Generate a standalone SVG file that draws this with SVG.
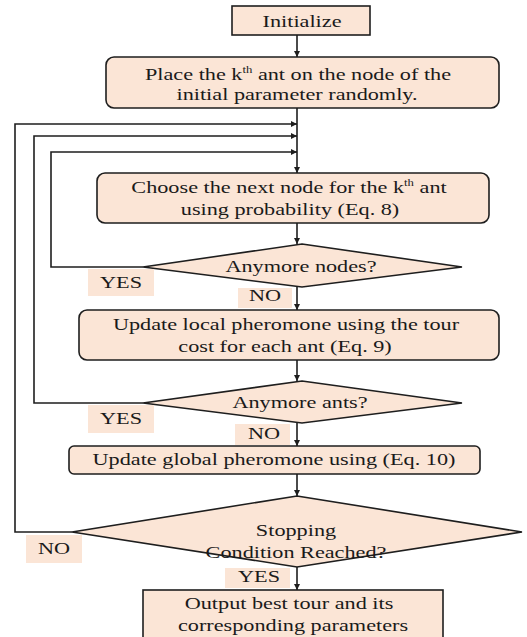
<svg xmlns="http://www.w3.org/2000/svg" width="527" height="637" viewBox="0 0 527 637">
<style>
.box{fill:#FBE5D6;stroke:#1e1e1e;stroke-width:1.6}
.lbl{fill:#FBE5D6;stroke:none}
.t{font-family:"Liberation Serif","Times New Roman",serif;font-size:17.5px;fill:#1a1a1a;text-anchor:middle}
.sup{font-size:10px}
.c{fill:none;stroke:#1e1e1e;stroke-width:1.6}
</style>
<defs>
<marker id="ah" viewBox="0 0 10 10" refX="10" refY="5" markerWidth="6" markerHeight="6" markerUnits="userSpaceOnUse" orient="auto">
<path d="M0,0 L10,5 L0,10 z" fill="#1e1e1e"/>
</marker>
</defs>
<rect width="527" height="637" fill="#fff"/>

<g id="connectors">
<line class="c" x1="297" y1="35" x2="297" y2="57" marker-end="url(#ah)"/>
<line class="c" x1="297" y1="108" x2="297" y2="173" marker-end="url(#ah)"/>
<line class="c" x1="297" y1="223" x2="297" y2="244" marker-end="url(#ah)"/>
<line class="c" x1="297" y1="287" x2="297" y2="310" marker-end="url(#ah)"/>
<line class="c" x1="297" y1="360" x2="297" y2="381" marker-end="url(#ah)"/>
<line class="c" x1="297" y1="423" x2="297" y2="446" marker-end="url(#ah)"/>
<line class="c" x1="297" y1="474" x2="297" y2="496" marker-end="url(#ah)"/>
<line class="c" x1="297" y1="567" x2="297" y2="590" marker-end="url(#ah)"/>
<polyline class="c" points="143,267 51,267 51,152 297,152" marker-end="url(#ah)"/>
<polyline class="c" points="143,403 34,403 34,136 297,136" marker-end="url(#ah)"/>
<polyline class="c" points="72,532 15,532 15,124 297,124" marker-end="url(#ah)"/>
</g>

<g id="init">
<rect class="box" x="232" y="6" width="138" height="29"/>
<text class="t" transform="matrix(1.27 0 0 1 302 27)">Initialize</text>
</g>

<g id="place">
<rect class="box" x="106" y="57" width="393" height="51" rx="8"/>
<text class="t" transform="matrix(1.27 0 0 1 298 80)">Place the k<tspan class="sup" dy="-7">th</tspan><tspan dy="7"> ant on the node of the</tspan></text>
<text class="t" transform="matrix(1.27 0 0 1 297 100)">initial parameter randomly.</text>
</g>

<g id="choose">
<rect class="box" x="97" y="173" width="392" height="50" rx="8"/>
<text class="t" transform="matrix(1.27 0 0 1 289 193)">Choose the next node for the k<tspan class="sup" dy="-7">th</tspan><tspan dy="7"> ant</tspan></text>
<text class="t" transform="matrix(1.27 0 0 1 290 215)">using probability  (Eq. 8)</text>
</g>

<g id="nodes-q">
<polygon class="box" points="302,244 462,267 302,287 143,267"/>
<text class="t" transform="matrix(1.27 0 0 1 301 272)">Anymore nodes?</text>
</g>

<g id="yes1">
<rect class="lbl" x="88" y="269" width="66" height="27"/>
<text class="t" transform="matrix(1.27 0 0 1 121 288)">YES</text>
</g>
<g id="no1">
<rect class="lbl" x="238" y="288" width="54" height="20"/>
<text class="t" transform="matrix(1.27 0 0 1 265 301)">NO</text>
</g>

<g id="local">
<rect class="box" x="79" y="310" width="420" height="50" rx="8"/>
<text class="t" transform="matrix(1.27 0 0 1 286 330)">Update local pheromone using the tour</text>
<text class="t" transform="matrix(1.27 0 0 1 285 352)">cost for each ant (Eq. 9)</text>
</g>

<g id="ants-q">
<polygon class="box" points="302,381 462,403 302,423 143,403"/>
<text class="t" transform="matrix(1.27 0 0 1 300 408)">Anymore ants?</text>
</g>

<g id="yes2">
<rect class="lbl" x="88" y="405" width="66" height="28"/>
<text class="t" transform="matrix(1.27 0 0 1 121 424)">YES</text>
</g>
<g id="no2">
<rect class="lbl" x="235" y="424" width="55" height="21"/>
<text class="t" transform="matrix(1.27 0 0 1 264 439)">NO</text>
</g>

<g id="global">
<rect class="box" x="69" y="446" width="411" height="28" rx="5"/>
<text class="t" transform="matrix(1.27 0 0 1 274 465)">Update global pheromone using (Eq. 10)</text>
</g>

<g id="stop-q">
<polygon class="box" points="297,496 522,532 297,567 72,532"/>
<text class="t" transform="matrix(1.27 0 0 1 296 536)">Stopping</text>
<text class="t" transform="matrix(1.27 0 0 1 296 558)">Condition Reached?</text>
</g>

<g id="no3">
<rect class="lbl" x="26" y="535" width="56" height="28"/>
<text class="t" transform="matrix(1.27 0 0 1 54 554)">NO</text>
</g>
<g id="yes3">
<rect class="lbl" x="225" y="568" width="65" height="20"/>
<text class="t" transform="matrix(1.27 0 0 1 259 582)">YES</text>
</g>

<g id="output">
<rect class="box" x="143" y="590" width="300" height="60"/>
<text class="t" transform="matrix(1.27 0 0 1 289 609)">Output best tour and its</text>
<text class="t" transform="matrix(1.27 0 0 1 293 631)">corresponding parameters</text>
</g>
</svg>
